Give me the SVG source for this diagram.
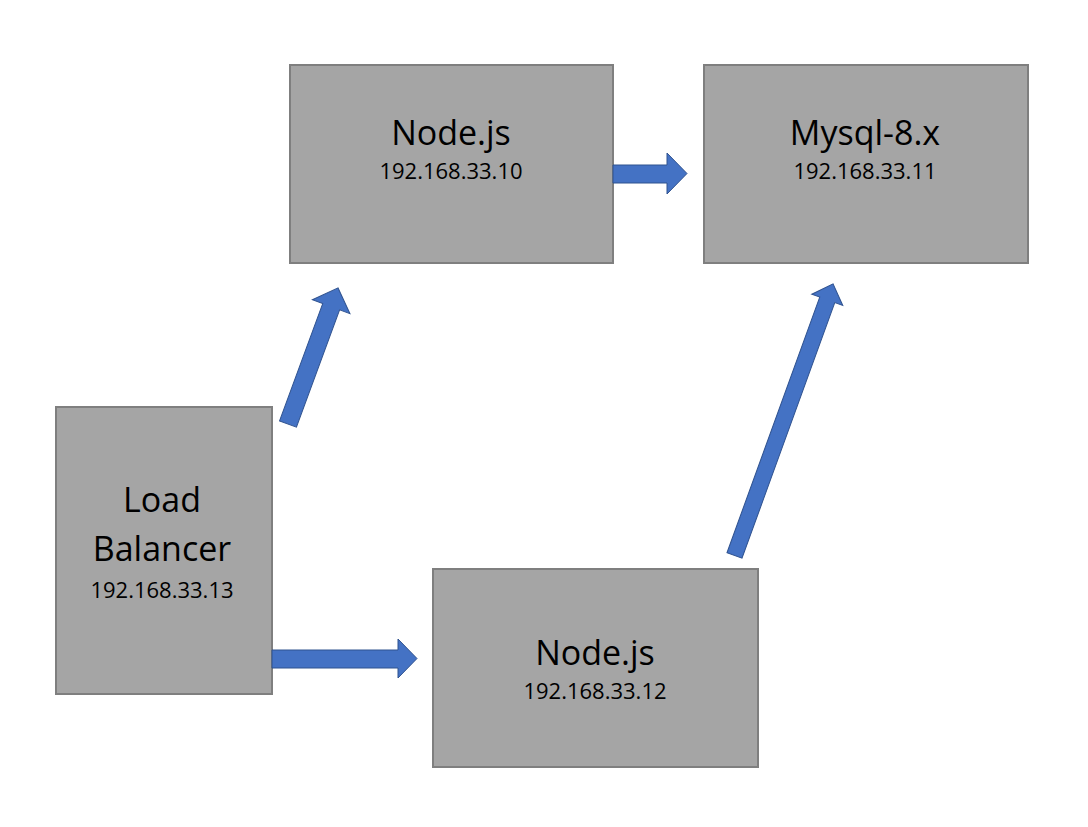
<svg xmlns="http://www.w3.org/2000/svg" width="1088" height="827" viewBox="0 0 1088 827">
<style>
.box{fill:#A5A5A5;stroke:#7F7F7F;stroke-width:2}
.arrow{fill:#4472C4;stroke:#2F528F;stroke-width:1}
.title{font-family:"Open Sans","Liberation Sans",sans-serif;font-size:34px;fill:#000;text-anchor:middle}
.ip{font-family:"Open Sans","Liberation Sans",sans-serif;font-size:22px;fill:#000;text-anchor:middle}
</style>
<rect width="1088" height="827" fill="#fff"/>
<g id="node-top">
<rect class="box" x="290" y="65" width="323" height="198"/>
<text class="title" x="451" y="145">Node.js</text>
<text class="ip" x="451" y="179">192.168.33.10</text>
</g>
<g id="mysql">
<rect class="box" x="704" y="65" width="324" height="198"/>
<text class="title" x="865" y="145">Mysql-8.x</text>
<text class="ip" x="865" y="179">192.168.33.11</text>
</g>
<g id="load-balancer">
<rect class="box" x="56" y="407" width="216" height="287"/>
<text class="title" x="162" y="512">Load</text>
<text class="title" x="162" y="561">Balancer</text>
<text class="ip" x="162" y="598">192.168.33.13</text>
</g>
<g id="node-bottom">
<rect class="box" x="433" y="569" width="325" height="198"/>
<text class="title" x="595" y="665">Node.js</text>
<text class="ip" x="595" y="699">192.168.33.12</text>
</g>
<g id="connectors">
<polygon class="arrow" points="613,165 667,165 667,153 687,173.5 667,194 667,183 613,183"/>
<polygon class="arrow" points="272,650 398,650 398,639 417,658.5 398,678 398,668 272,668"/>
<polygon class="arrow" transform="translate(288,424) rotate(-69.8)" points="0,-9 125,-9 125,-20 145,0 125,20 125,9 0,9"/>
<polygon class="arrow" transform="translate(734.5,555.5) rotate(-70.06)" points="0,-8 272,-8 272,-16.5 289,0 272,16.5 272,8 0,8"/>
</g>
</svg>
